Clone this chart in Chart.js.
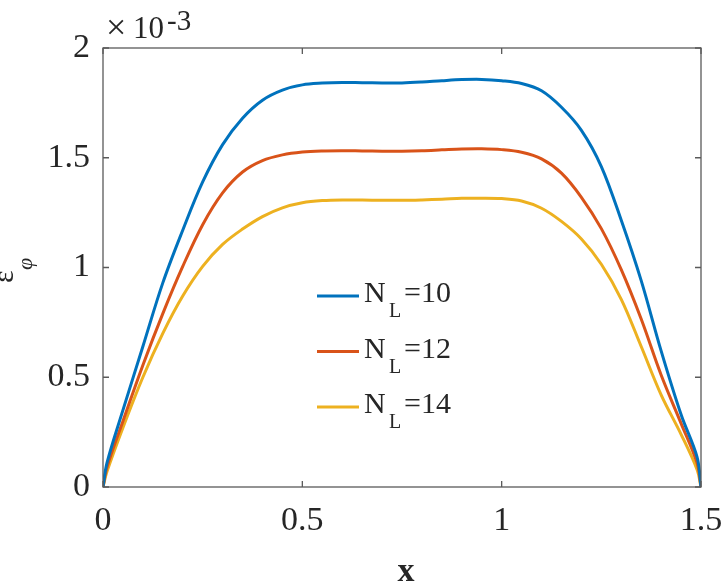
<!DOCTYPE html>
<html>
<head>
<meta charset="utf-8">
<script src="https://cdn.jsdelivr.net/npm/chart.js@4.4.1/dist/chart.umd.min.js"></script>
<style>
  html, body { margin: 0; padding: 0; background: #fff; }
  #wrap { width: 722px; height: 584px; }
</style>
</head>
<body>
<div id="wrap"><canvas id="strain-chart" width="722" height="584"></canvas></div>
<script>
// values in units of 1e-3
const xValues = [0, 0.01, 0.05, 0.1, 0.15, 0.2, 0.25, 0.3, 0.35, 0.4, 0.45, 0.5, 0.55, 0.6, 0.65, 0.7, 0.75,
  0.8, 0.85, 0.9, 0.95, 1.0, 1.05, 1.1, 1.15, 1.2, 1.25, 1.3, 1.35, 1.4, 1.45, 1.49, 1.5];
const nl10 = [0, 0.11, 0.35, 0.64, 0.93, 1.17, 1.39, 1.56, 1.68, 1.762, 1.808, 1.832, 1.84, 1.843, 1.842, 1.841, 1.841,
  1.845, 1.851, 1.856, 1.857, 1.851, 1.838, 1.805, 1.73, 1.625, 1.46, 1.215, 0.94, 0.62, 0.33, 0.137, 0];
const nl12 = [0, 0.09, 0.30, 0.555, 0.79, 1.005, 1.195, 1.34, 1.435, 1.487, 1.513, 1.526, 1.531, 1.532, 1.531, 1.53, 1.53,
  1.532, 1.536, 1.54, 1.541, 1.537, 1.525, 1.495, 1.43, 1.32, 1.177, 0.99, 0.765, 0.51, 0.29, 0.11, 0];
const nl14 = [0, 0.07, 0.27, 0.50, 0.70, 0.87, 1.005, 1.105, 1.175, 1.232, 1.272, 1.295, 1.305, 1.308, 1.307, 1.306, 1.306,
  1.308, 1.311, 1.315, 1.316, 1.314, 1.303, 1.27, 1.21, 1.13, 1.015, 0.855, 0.64, 0.42, 0.24, 0.08, 0];
const seriesLabels = ['10', '12', '14'];
const xTicks = [0, 0.5, 1, 1.5];
const yTicks = [0, 0.5, 1, 1.5, 2];

const colors = ['#0072BD', '#D95319', '#EDB120'];
const axisColor = '#5a5a5a';
const textColor = '#262626';
const serif = '"Liberation Serif", "Times New Roman", serif';

const toPoints = ys => ys.map((y, i) => ({ x: xValues[i], y }));

// box, inward ticks, exponent, axis titles, legend
const matlabAxes = {
  id: 'matlabAxes',
  afterDraw(chart) {
    const { ctx, chartArea: a, scales: { x, y } } = chart;
    const tl = 6;
    ctx.save();
    ctx.strokeStyle = axisColor;
    ctx.lineWidth = 1.3;
    ctx.strokeRect(a.left, a.top, a.right - a.left, a.bottom - a.top);
    ctx.beginPath();
    xTicks.forEach(v => {
      const px = x.getPixelForValue(v);
      ctx.moveTo(px, a.bottom); ctx.lineTo(px, a.bottom - tl);
      ctx.moveTo(px, a.top); ctx.lineTo(px, a.top + tl);
    });
    yTicks.forEach(v => {
      const py = y.getPixelForValue(v);
      ctx.moveTo(a.left, py); ctx.lineTo(a.left + tl, py);
      ctx.moveTo(a.right, py); ctx.lineTo(a.right - tl, py);
    });
    ctx.stroke();

    ctx.fillStyle = textColor;
    ctx.textBaseline = 'alphabetic';
    ctx.textAlign = 'left';
    // exponent
    ctx.font = '36px ' + serif;
    ctx.fillText('\u00d7', 106, 39);
    ctx.font = '31px ' + serif;
    ctx.fillText('10', 133, 38);
    ctx.font = '29px ' + serif;
    ctx.fillText('-3', 167, 30);

    // x title
    ctx.font = 'bold 34px ' + serif;
    ctx.textAlign = 'center';
    ctx.fillText('x', (a.left + a.right) / 2 + 4, 581);

    // y title, rotated
    ctx.save();
    ctx.translate(13, 283);
    ctx.rotate(-Math.PI / 2);
    ctx.textAlign = 'left';
    ctx.font = '30px ' + serif;
    ctx.fillText('\u03b5', 0, 0);
    ctx.font = 'italic 22px ' + serif;
    ctx.fillText('\u03c6', 13, 19);
    ctx.restore();

    // legend
    const rowY = [302, 357.5, 413];
    seriesLabels.forEach((lab, i) => {
      const by = rowY[i];
      ctx.strokeStyle = colors[i];
      ctx.lineWidth = 3;
      ctx.beginPath();
      ctx.moveTo(317, by - 6);
      ctx.lineTo(359, by - 6);
      ctx.stroke();
      ctx.fillStyle = textColor;
      ctx.textAlign = 'left';
      ctx.font = '30px ' + serif;
      ctx.fillText('N', 364, by);
      ctx.font = '20px ' + serif;
      ctx.fillText('L', 389, by + 15);
      ctx.font = '30px ' + serif;
      ctx.fillText('=' + lab, 404, by);
    });
    ctx.restore();
  }
};

function draw() {
  new Chart(document.getElementById('strain-chart'), {
    type: 'line',
    data: {
      datasets: [nl10, nl12, nl14].map((ys, i) => ({
        label: 'N_L=' + seriesLabels[i],
        data: toPoints(ys),
        borderColor: colors[i],
        borderWidth: 3,
        pointRadius: 0,
        fill: false,
        tension: 0.35,
      })),
    },
    options: {
      responsive: false,
      animation: false,
      layout: { padding: { left: 0, right: 21, top: 48, bottom: 0 } },
      plugins: { legend: { display: false }, tooltip: { enabled: false } },
      scales: {
        x: {
          type: 'linear', min: 0, max: 1.5,
          afterBuildTicks: s => { s.ticks = xTicks.map(v => ({ value: v })); },
          afterFit: s => { s.height = 97; s.paddingLeft = 0; s.paddingRight = 0; },
          grid: { display: false, drawTicks: false },
          border: { display: false },
          ticks: { color: textColor, padding: 14, maxRotation: 0, font: { family: serif, size: 34 },
            callback: v => String(v) },
        },
        y: {
          type: 'linear', min: 0, max: 2,
          afterBuildTicks: s => { s.ticks = yTicks.map(v => ({ value: v })); },
          afterFit: s => { s.width = 103; s.paddingTop = 0; s.paddingBottom = 0; },
          grid: { display: false, drawTicks: false },
          border: { display: false },
          ticks: { color: textColor, padding: 13, font: { family: serif, size: 34 },
            callback: v => String(v) },
        },
      },
    },
    plugins: [matlabAxes],
  });
}

document.fonts.load('30px "Liberation Serif"').then(draw, draw);
</script>
</body>
</html>
